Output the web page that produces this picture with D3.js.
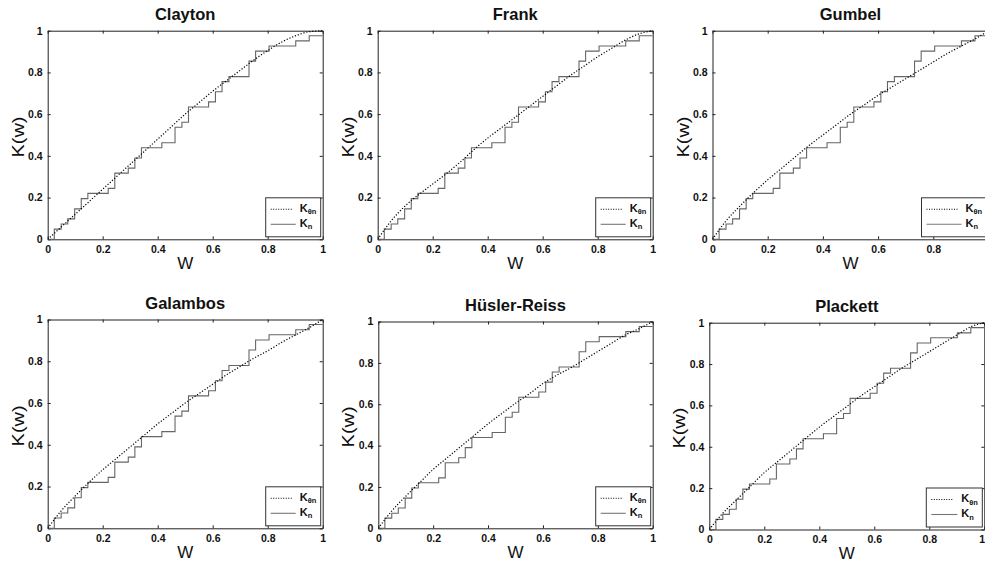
<!DOCTYPE html>
<html><head><meta charset="utf-8">
<script src="https://cdn.jsdelivr.net/npm/d3@7"></script>
<style>body{margin:0;background:#fff}svg{display:block}</style>
</head><body><svg id="c" width="985" height="563"></svg>
<script>
// ---------- data ----------
const panelNames = ["Clayton", "Frank", "Gumbel", "Galambos", "Hüsler-Reiss", "Plackett"];
const gridW = [0, 0.05, 0.1, 0.15, 0.2, 0.25, 0.3, 0.35, 0.4, 0.45, 0.5, 0.55, 0.6, 0.65, 0.7, 0.75, 0.8, 0.85, 0.9, 0.95, 1];
const kClayton  = [0, 0.06, 0.12, 0.18, 0.24, 0.30, 0.36, 0.42, 0.48, 0.54, 0.60, 0.655, 0.71, 0.76, 0.81, 0.86, 0.905, 0.945, 0.975, 0.995, 1.0];
const kFrank    = [0, 0.09, 0.16, 0.215, 0.265, 0.315, 0.37, 0.43, 0.485, 0.535, 0.585, 0.635, 0.685, 0.735, 0.785, 0.83, 0.875, 0.915, 0.955, 0.985, 1.0];
const kGumbel   = [0, 0.09, 0.16, 0.225, 0.285, 0.34, 0.395, 0.45, 0.50, 0.55, 0.60, 0.645, 0.69, 0.73, 0.77, 0.81, 0.85, 0.89, 0.925, 0.96, 1.0];
const kGalambos = [0, 0.085, 0.155, 0.22, 0.28, 0.335, 0.39, 0.445, 0.50, 0.55, 0.60, 0.645, 0.69, 0.735, 0.775, 0.815, 0.85, 0.89, 0.925, 0.96, 1.0];
const kHusler   = [0, 0.085, 0.155, 0.22, 0.285, 0.34, 0.395, 0.45, 0.505, 0.555, 0.605, 0.65, 0.70, 0.74, 0.775, 0.815, 0.855, 0.895, 0.935, 0.965, 1.0];
const kPlackett = [0, 0.08, 0.145, 0.21, 0.275, 0.33, 0.385, 0.44, 0.495, 0.545, 0.595, 0.645, 0.69, 0.735, 0.78, 0.82, 0.86, 0.90, 0.94, 0.98, 1.0];
const parametricK = [kClayton, kFrank, kGumbel, kGalambos, kHusler, kPlackett];

// empirical K_n: jump locations and levels after each jump
const stepJumpW = [0.024, 0.049, 0.073, 0.098, 0.122, 0.146, 0.220, 0.244, 0.293, 0.317, 0.341, 0.415, 0.463, 0.488, 0.512, 0.585, 0.610, 0.634, 0.659, 0.732, 0.756, 0.805, 0.902, 0.951];
const stepLevels = [0.049, 0.073, 0.098, 0.146, 0.195, 0.220, 0.244, 0.317, 0.341, 0.390, 0.439, 0.463, 0.537, 0.561, 0.634, 0.659, 0.707, 0.756, 0.780, 0.854, 0.902, 0.927, 0.951, 0.976];

const tickValues = [0, 0.2, 0.4, 0.6, 0.8, 1];
const tickLabels = ["0", "0.2", "0.4", "0.6", "0.8", "1"];
const legendEntries = [{main: "K", sub: "θn"}, {main: "K", sub: "n"}];

// ---------- layout ----------
const W = 985;
const layout = [
  {x0: 47.7,  x1: 322.7, yb: 239.3, yt: 30.7,  legW: 55},
  {x0: 377.7, x1: 652.7, yb: 239.3, yt: 30.7,  legW: 55},
  {x0: 712.5, x1: 988.5, yb: 239.3, yt: 30.7,  legW: 65},
  {x0: 47.7,  x1: 322.7, yb: 528.3, yt: 319.5, legW: 55},
  {x0: 378.3, x1: 652.7, yb: 528.3, yt: 321.5, legW: 55},
  {x0: 709.3, x1: 984.3, yb: 529.5, yt: 322.7, legW: 56}
];
const FONT = "'Liberation Sans', Arial, Helvetica, sans-serif";
const svg = d3.select("#c");

const stepPts = [[0, 0]].concat(stepJumpW.map((w, i) => [w, stepLevels[i]]));
stepPts.push([1, stepLevels[stepLevels.length - 1]]);

panelNames.forEach((name, i) => {
  const L = layout[i];
  const x = d3.scaleLinear().domain([0, 1]).range([L.x0, L.x1]);
  const y = d3.scaleLinear().domain([0, 1]).range([L.yb, L.yt]);
  const g = svg.append("g").attr("font-family", FONT);

  g.append("rect").attr("x", L.x0).attr("y", L.yt).attr("width", L.x1 - L.x0).attr("height", L.yb - L.yt)
    .attr("fill", "#fff");

  const clipId = "clip" + i;
  g.append("clipPath").attr("id", clipId).append("rect")
    .attr("x", L.x0).attr("y", L.yt - 1).attr("width", L.x1 - L.x0).attr("height", L.yb - L.yt + 2);

  // axes (MATLAB style, inward ticks on all four sides)
  const tk = 3;
  const axB = d3.axisBottom(x).tickValues(tickValues).tickFormat((d, j) => tickLabels[j]).tickSizeInner(-tk).tickSizeOuter(0).tickPadding(6);
  const axT = d3.axisTop(x).tickValues(tickValues).tickFormat("").tickSizeInner(-tk).tickSizeOuter(0);
  const axL = d3.axisLeft(y).tickValues(tickValues).tickFormat((d, j) => tickLabels[j]).tickSizeInner(-tk).tickSizeOuter(0).tickPadding(5);
  const axR = d3.axisRight(y).tickValues(tickValues).tickFormat("").tickSizeInner(-tk).tickSizeOuter(0);

  const gb = g.append("g").attr("transform", `translate(0,${L.yb})`).call(axB);
  const gt = g.append("g").attr("transform", `translate(0,${L.yt})`).call(axT);
  const gl = g.append("g").attr("transform", `translate(${L.x0},0)`).call(axL);
  const gr = g.append("g").attr("transform", `translate(${L.x1},0)`).call(axR);
  [gb, gt, gl, gr].forEach(a => {
    a.select(".domain").attr("stroke", "#222").attr("stroke-width", 1);
    a.selectAll(".tick line").attr("stroke", "#222");
    a.selectAll("text").attr("font-family", FONT).attr("font-size", "10.5px").attr("font-weight", "bold").attr("fill", "#111");
  });
  // bottom tick labels at the window edge: hide if the tick is off-canvas, otherwise keep fully visible
  gb.selectAll(".tick").each(function(d) {
    const px = x(d);
    const t = d3.select(this).select("text");
    if (px > W) t.remove();
    else if (px + 4 > W) t.attr("text-anchor", "end").attr("x", W - 0.5 - px);
  });

  // lines
  const plot = g.append("g").attr("clip-path", `url(#${clipId})`);
  const stepLine = d3.line().x(d => x(d[0])).y(d => y(d[1])).curve(d3.curveStepAfter);
  plot.append("path").attr("d", stepLine(stepPts)).attr("fill", "none")
    .attr("stroke", "#666").attr("stroke-width", 1.1);

  const curve = d3.line().x((d, j) => x(gridW[j])).y(d => y(d)).curve(d3.curveMonotoneX);
  plot.append("path").attr("d", curve(parametricK[i])).attr("fill", "none")
    .attr("stroke", "#000").attr("stroke-width", 1.2).attr("stroke-dasharray", "1.2,1.8");

  // title
  g.append("text").attr("x", (L.x0 + L.x1) / 2).attr("y", L.yt - 10.5)
    .attr("text-anchor", "middle").attr("font-size", "16.5px").attr("font-weight", "bold").attr("fill", "#111").text(name);

  // axis labels
  g.append("text").attr("x", (L.x0 + L.x1) / 2).attr("y", L.yb + 29.5)
    .attr("text-anchor", "middle").attr("font-size", "17px").attr("fill", "#111").text("W");
  const ycx = L.x0 - 24, ycy = (L.yt + L.yb) / 2 + 2;
  g.append("text").attr("transform", `translate(${ycx},${ycy}) rotate(-90)`)
    .attr("text-anchor", "middle").attr("font-size", "17px").attr("fill", "#111")
    .attr("textLength", 41).attr("lengthAdjust", "spacingAndGlyphs").text("K(w)");

  // legend
  const lw = L.legW, lh = 39;
  const lx = L.x1 - 2 - lw, ly = L.yb - 2.5 - lh;
  const lg = g.append("g");
  lg.append("rect").attr("x", lx).attr("y", ly).attr("width", lw).attr("height", lh)
    .attr("fill", "#fff").attr("stroke", "#333").attr("stroke-width", 1);
  const textX = lx + lw - 21;
  legendEntries.forEach((e, k) => {
    const ry = ly + 11.5 + k * 15;
    const ln = lg.append("line").attr("x1", lx + 5).attr("x2", k === 0 ? textX - 8 : textX - 4)
      .attr("y1", ry).attr("y2", ry).attr("stroke-width", 1.1);
    if (k === 0) ln.attr("stroke", "#000").attr("stroke-dasharray", "1,1.5");
    else ln.attr("stroke", "#777");
    const t = lg.append("text").attr("x", textX).attr("y", ry + 2.5)
      .attr("font-size", "11px").attr("font-weight", "bold").attr("fill", "#111");
    t.append("tspan").text(e.main);
    t.append("tspan").attr("dy", 2.5).attr("font-size", "7.5px").text(e.sub);
  });
});
</script></body></html>
